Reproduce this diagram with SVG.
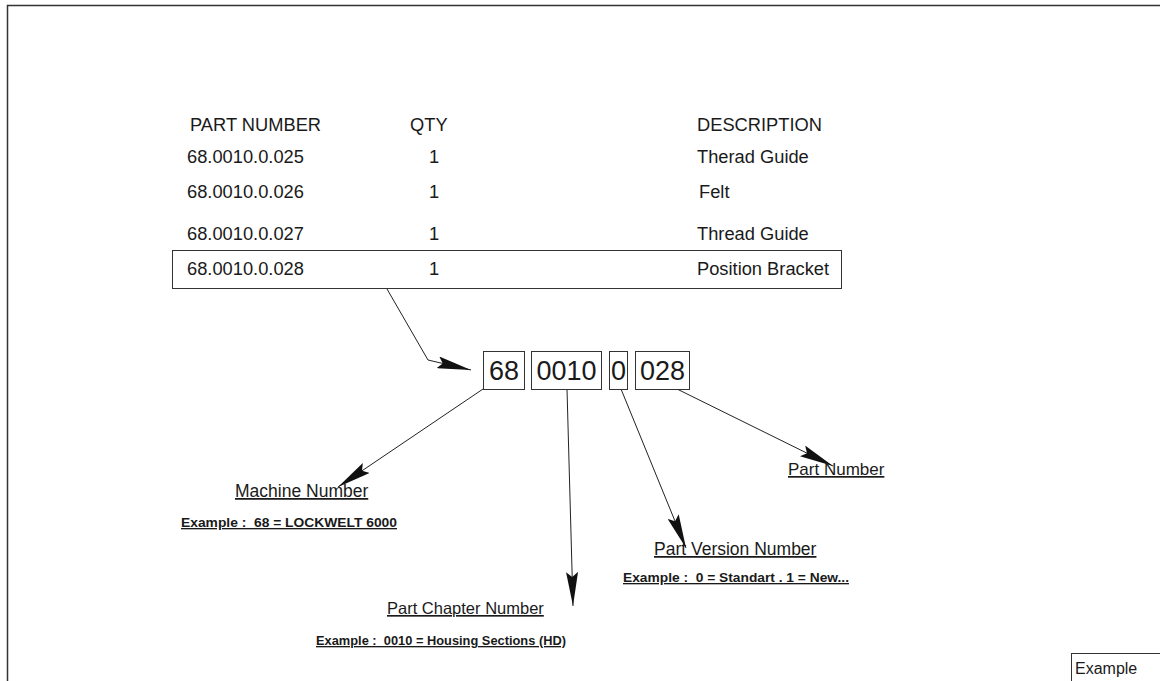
<svg xmlns="http://www.w3.org/2000/svg" width="1160" height="681" viewBox="0 0 1160 681">
<style>
text{font-family:"Liberation Sans",Arial,sans-serif;fill:#1a1a1a}
.t{font-size:18.3px}
.lbl{font-size:17.5px;text-decoration:underline}
.ex{font-size:13.3px;font-weight:bold;text-decoration:underline;white-space:pre}
.num{font-size:27px;text-anchor:middle}
.box{fill:#fff;stroke:#333;stroke-width:1}
.con{fill:none;stroke:#222;stroke-width:1}
</style>
<defs>
<marker id="ah" viewBox="0 0 34 12" refX="34" refY="6" markerWidth="34" markerHeight="12" markerUnits="userSpaceOnUse" orient="auto">
<path d="M0,0 L34,6 L0,12 L5,6 z" fill="#111"/>
</marker>
</defs>
<rect width="1160" height="681" fill="#fff"/>
<path d="M7.5,681 V5.5 H1160" fill="none" stroke="#333" stroke-width="1.5"/>

<g id="table">
<text class="t" x="190" y="131">PART NUMBER</text>
<text class="t" x="410" y="131">QTY</text>
<text class="t" x="697" y="131">DESCRIPTION</text>
<text class="t" x="187" y="163">68.0010.0.025</text>
<text class="t" x="429" y="163">1</text>
<text class="t" x="697" y="163">Therad Guide</text>
<text class="t" x="187" y="198">68.0010.0.026</text>
<text class="t" x="429" y="198">1</text>
<text class="t" x="699" y="198">Felt</text>
<text class="t" x="187" y="240">68.0010.0.027</text>
<text class="t" x="429" y="240">1</text>
<text class="t" x="697" y="240">Thread Guide</text>
</g>
<g id="row-selected">
<rect class="box" x="172.5" y="250.5" width="669" height="38" fill="none"/>
<text class="t" x="187" y="275">68.0010.0.028</text>
<text class="t" x="429" y="275">1</text>
<text class="t" x="697" y="275">Position Bracket</text>
</g>

<g id="connectors">
<polyline class="con" points="387,289 428,360 471,370" marker-end="url(#ah)"/>
<line class="con" x1="483" y1="389" x2="338" y2="487" marker-end="url(#ah)"/>
<line class="con" x1="567" y1="389" x2="573" y2="606" marker-end="url(#ah)"/>
<line class="con" x1="621" y1="389" x2="686" y2="548" marker-end="url(#ah)"/>
<line class="con" x1="677" y1="389" x2="833" y2="466" marker-end="url(#ah)"/>
</g>

<g id="seg-68"><rect class="box" x="483.5" y="351.5" width="41" height="38"/><text class="num" x="504" y="380">68</text></g>
<g id="seg-0010"><rect class="box" x="531.5" y="351.5" width="70" height="38"/><text class="num" x="566.5" y="380">0010</text></g>
<g id="seg-0"><rect class="box" x="609.5" y="351.5" width="18" height="38"/><text class="num" x="618.5" y="380">0</text></g>
<g id="seg-028"><rect class="box" x="635.5" y="351.5" width="54" height="38"/><text class="num" x="662.5" y="380">028</text></g>

<g id="machine-number">
<text class="lbl" x="235" y="497">Machine Number</text>
<text class="ex" x="181" y="527" xml:space="preserve" textLength="216" lengthAdjust="spacingAndGlyphs">Example :  68 = LOCKWELT 6000</text>
</g>
<g id="part-chapter-number">
<text class="lbl" x="387" y="614" style="font-size:16.5px">Part Chapter Number</text>
<text class="ex" x="316" y="645" xml:space="preserve" textLength="250" lengthAdjust="spacingAndGlyphs">Example :  0010 = Housing Sections (HD)</text>
</g>
<g id="part-version-number">
<text class="lbl" x="654" y="555">Part Version Number</text>
<text class="ex" x="623" y="582" xml:space="preserve" textLength="226" lengthAdjust="spacingAndGlyphs">Example :  0 = Standart . 1 = New...</text>
</g>
<g id="part-number">
<text class="lbl" x="788" y="475" style="font-size:17px">Part Number</text>
</g>

<g id="example-tag">
<rect class="box" x="1071.5" y="653.5" width="100" height="40"/>
<text x="1075" y="674" style="font-size:16px">Example</text>
</g>
</svg>
